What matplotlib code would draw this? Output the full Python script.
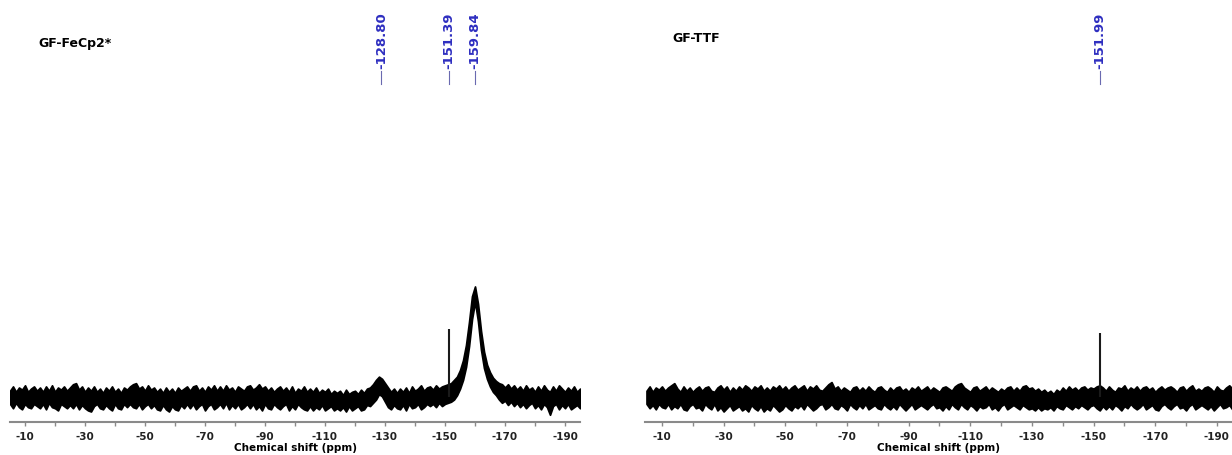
import numpy as np
import matplotlib
matplotlib.use('Agg')
import matplotlib.pyplot as plt
from matplotlib.transforms import blended_transform_factory

# chemical shift grid (ppm), 1 ppm steps
ppm = np.arange(-5, -196, -1)

# GF-FeCp2* : upper / lower edge of the trace (arb. units, baseline = 0)
fecp_hi = [6, 10, 5, 9, 7, 11, 5, 8, 10, 6,
           9, 5, 10, 6, 11, 5, 9, 7, 10, 6,
           9, 12, 13, 7, 10, 5, 9, 6, 10, 5,
           8, 4, 9, 6, 10, 5, 8, 4, 9, 7,
           10, 12, 13, 8, 10, 6, 11, 7, 9, 5,
           8, 4, 9, 5, 8, 4, 9, 6, 8, 10,
           6, 10, 11, 6, 9, 5, 10, 7, 11, 6,
           10, 6, 11, 7, 9, 5, 10, 8, 6, 10,
           11, 7, 9, 12, 8, 10, 6, 9, 5, 8,
           10, 6, 9, 5, 10, 4, 8, 6, 10, 5,
           8, 5, 9, 4, 7, 5, 8, 3, 6, 4,
           6, 2, 7, 3, 5, 6, 3, 7, 4, 8,
           9, 12, 16, 19, 17, 13, 9, 5, 8, 4,
           8, 5, 9, 4, 10, 6, 8, 11, 6, 9,
           10, 7, 11, 8, 10, 11, 12, 13, 16, 19,
           25, 34, 48, 69, 93, 102, 86, 61, 42, 30,
           23, 18, 15, 13, 12, 9, 12, 8, 11, 7,
           10, 6, 11, 7, 9, 5, 10, 6, 11, 7,
           5, 10, 6, 11, 8, 5, 9, 6, 10, 5, 8]
fecp_lo = [-6, -10, -5, -9, -11, -6, -9, -10, -6, -8,
           -10, -6, -11, -5, -9, -10, -12, -6, -8, -10,
           -7, -10, -6, -11, -7, -10, -12, -13, -8, -6,
           -10, -11, -7, -10, -12, -6, -10, -11, -6, -9,
           -6, -9, -10, -6, -11, -8, -6, -10, -7, -11,
           -12, -7, -11, -13, -8, -11, -12, -7, -10, -6,
           -10, -6, -11, -8, -6, -12, -8, -6, -11, -9,
           -6, -10, -5, -11, -7, -10, -6, -11, -9, -6,
           -10, -6, -11, -8, -12, -6, -10, -11, -6, -9,
           -11, -8, -6, -12, -8, -11, -6, -9, -11, -12,
           -8, -12, -9, -11, -7, -12, -10, -8, -12, -10,
           -12, -9, -13, -8, -12, -10, -8, -12, -11, -7,
           -8, -5, -2, 3, 1, -4, -9, -11, -7, -10,
           -11, -7, -12, -6, -10, -9, -6, -11, -9, -6,
           -8, -6, -9, -5, -8, -6, -5, -4, -2, 2,
           8, 16, 28, 47, 72, 88, 70, 44, 27, 17,
           10, 5, 2, -2, -5, -3, -7, -4, -8, -5,
           -9, -6, -10, -7, -5, -10, -7, -11, -6, -9,
           -16, -8, -6, -11, -7, -10, -6, -11, -9, -7, -10]
fecp_sharp_ppm = [-151.39]
fecp_sharp_height = [63]
fecp_labels = ["-128.80", "-151.39", "-159.84"]
fecp_label_ppm = [-128.80, -151.39, -159.84]

# GF-TTF
ttf_hi = [6, 10, 5, 9, 7, 10, 6, 9, 11, 13,
          8, 5, 10, 6, 9, 5, 8, 10, 6, 9,
          10, 6, 5, 9, 11, 7, 10, 5, 9, 6,
          10, 7, 11, 9, 6, 10, 8, 11, 6, 9,
          6, 10, 8, 11, 7, 10, 6, 9, 11, 7,
          9, 11, 6, 10, 8, 11, 7, 6, 9, 12,
          14, 8, 10, 6, 9, 7, 5, 9, 10, 6,
          9, 6, 10, 7, 5, 9, 10, 7, 5, 9,
          6, 9, 10, 6, 8, 5, 9, 7, 10, 6,
          8, 10, 6, 9, 7, 5, 9, 10, 8, 6,
          10, 12, 13, 9, 7, 5, 9, 10, 6, 8,
          10, 6, 9, 7, 5, 8, 6, 9, 10, 6,
          9, 6, 10, 11, 8, 9, 6, 8, 5, 7,
          4, 6, 3, 7, 5, 9, 6, 10, 7, 9,
          6, 9, 10, 7, 9, 8, 10, 11, 9, 6,
          10, 7, 5, 9, 8, 11, 6, 9, 7, 10,
          6, 9, 10, 7, 9, 5, 8, 10, 7, 9,
          10, 8, 5, 9, 10, 6, 9, 11, 6, 8,
          6, 9, 10, 8, 5, 10, 7, 6, 9, 11, 8]
ttf_lo = [-6, -10, -7, -11, -6, -9, -10, -6, -11, -8,
          -10, -6, -11, -12, -8, -6, -10, -9, -12, -6,
          -9, -11, -6, -12, -9, -13, -10, -7, -12, -10,
          -8, -12, -10, -13, -7, -10, -12, -8, -13, -10,
          -12, -7, -10, -13, -11, -7, -10, -12, -8, -10,
          -7, -11, -6, -9, -12, -10, -7, -6, -11, -9,
          -6, -10, -11, -7, -9, -12, -6, -9, -11, -7,
          -10, -6, -11, -9, -7, -10, -11, -6, -9, -11,
          -8, -11, -6, -9, -12, -9, -6, -11, -9, -7,
          -9, -11, -8, -6, -10, -9, -12, -8, -11, -6,
          -9, -11, -6, -9, -11, -7, -9, -12, -8, -10,
          -9, -6, -11, -9, -12, -8, -6, -11, -9, -7,
          -9, -11, -7, -9, -11, -10, -12, -9, -12, -10,
          -11, -9, -12, -8, -10, -11, -7, -9, -11, -8,
          -10, -7, -9, -11, -8, -7, -10, -12, -8, -11,
          -8, -11, -7, -9, -12, -8, -10, -6, -9, -11,
          -9, -6, -11, -9, -7, -11, -12, -8, -6, -9,
          -11, -8, -6, -10, -9, -12, -8, -6, -11, -9,
          -7, -9, -11, -8, -12, -9, -6, -10, -9, -7, -11]
ttf_sharp_ppm = [-151.99]
ttf_sharp_height = [59]
ttf_labels = ["-151.99"]
ttf_label_ppm = [-151.99]

tick_pos = list(range(-10, -191, -10))
tick_lab = [str(t) if t % 20 != 0 else '' for t in tick_pos]

fig = plt.figure(figsize=(12.32, 4.55), dpi=100)
blue = '#2e2ec0'


def panel(rect, xlim, hi, lo, sp, sh, labels, lab_ppm, title, title_xy):
    ax = fig.add_axes(rect)
    ax.fill_between(ppm, lo, hi, color='black', lw=1.3)
    ax.vlines(sp, 0, sh, color='#1a1a1a', lw=1.5)
    ax.set_xlim(*xlim)
    ax.set_ylim(-22.7, 292)
    for s in ['top', 'left', 'right']:
        ax.spines[s].set_visible(False)
    ax.spines['bottom'].set_color('#8a8a8a')
    ax.spines['bottom'].set_linewidth(1.5)
    ax.set_yticks([])
    ax.set_xticks(tick_pos)
    ax.set_xticklabels(tick_lab, fontsize=7.5, fontweight='bold', color='#222222')
    ax.tick_params(axis='x', direction='out', length=3, width=1, color='#8a8a8a', pad=4)
    ax.set_xlabel('Chemical shift (ppm)', fontsize=7.5, fontweight='bold', labelpad=1)

    tr = blended_transform_factory(ax.transData, fig.transFigure)
    for lab, p in zip(labels, lab_ppm):
        ax.text(p, 0.848, lab, transform=tr, rotation=90, ha='center', va='bottom',
                fontsize=9.5, fontweight='bold', color=blue, clip_on=False)
        ax.plot([p, p], [0.815, 0.845], transform=tr, color='#6a6ab0', lw=0.8, clip_on=False)
    fig.text(title_xy[0], title_xy[1], title, fontsize=9, fontweight='bold', va='center')
    return ax


bottom = 33 / 455
height = (422 - 80) / 455
panel([10 / 1232, bottom, 570 / 1232, height], (-5, -195), fecp_hi, fecp_lo,
      fecp_sharp_ppm, fecp_sharp_height, fecp_labels, fecp_label_ppm,
      'GF-FeCp2*', (38 / 1232, 1 - 43 / 455))
panel([645 / 1232, bottom, 587 / 1232, height], (-4.5, -194.9), ttf_hi, ttf_lo,
      ttf_sharp_ppm, ttf_sharp_height, ttf_labels, ttf_label_ppm,
      'GF-TTF', (672 / 1232, 1 - 38 / 455))

fig.savefig('out.png', dpi=100)
